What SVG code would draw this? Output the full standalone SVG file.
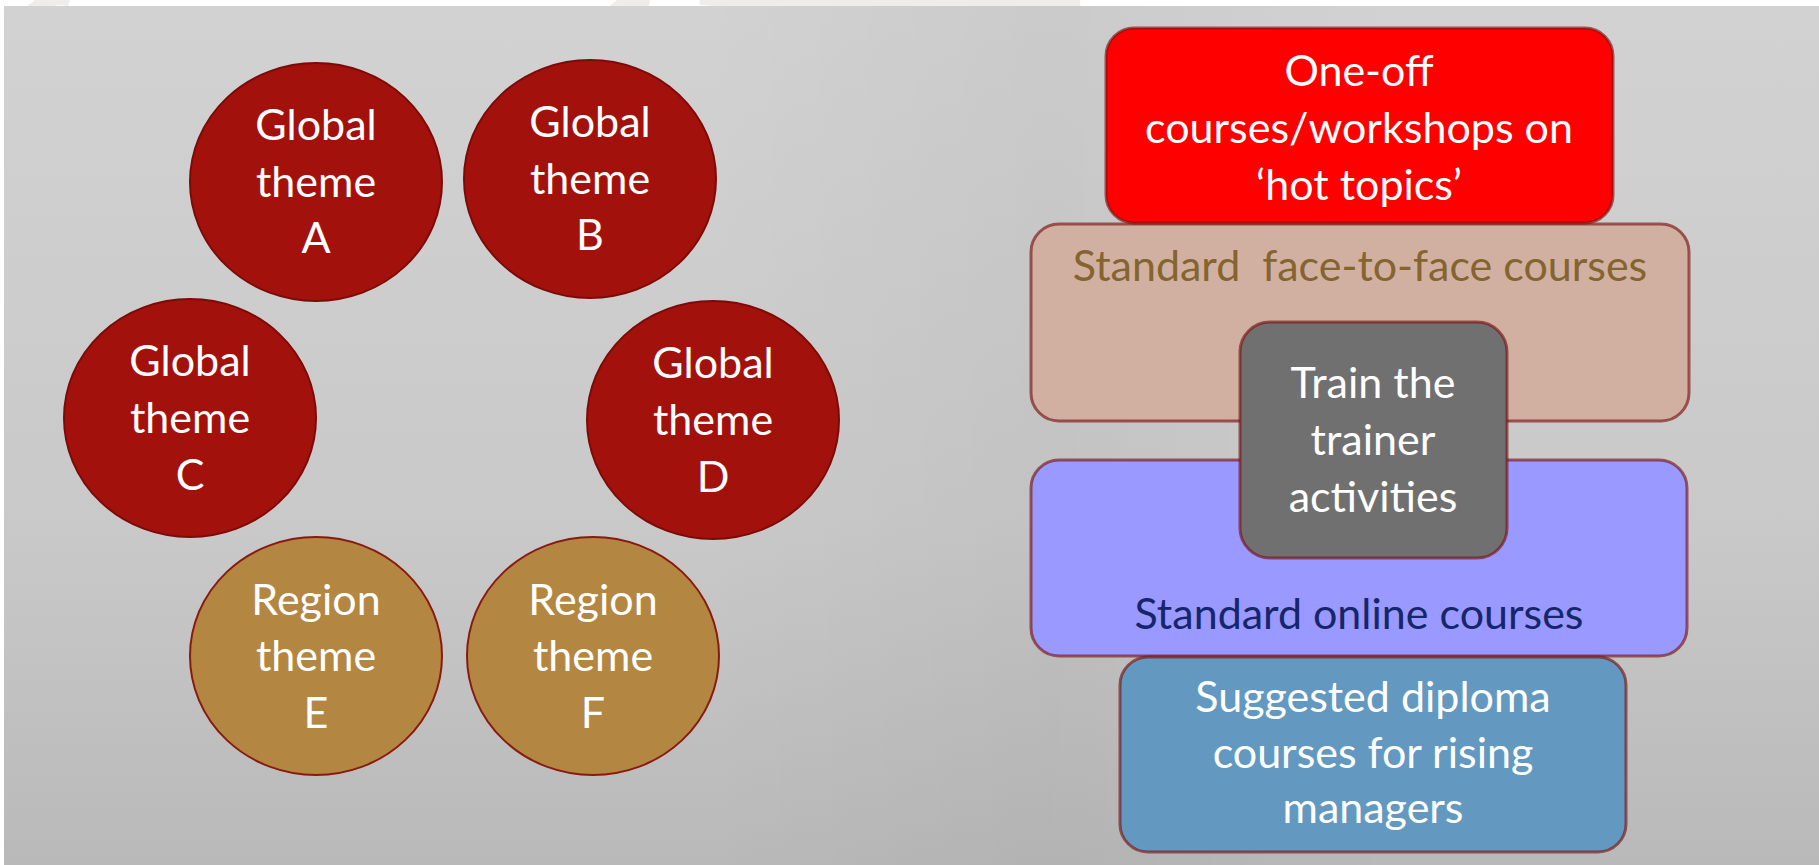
<svg xmlns="http://www.w3.org/2000/svg" width="1819" height="865" viewBox="0 0 1819 865">
  <defs>
    <linearGradient id="bgFade" x1="0" y1="0" x2="0" y2="1">
      <stop offset="0" stop-color="#d2d2d2"/>
      <stop offset="0.6" stop-color="#c9c9c9"/>
      <stop offset="1" stop-color="#b9b9b9"/>
    </linearGradient>
    <linearGradient id="midShade" x1="0" y1="0" x2="1" y2="0">
      <stop offset="0" stop-color="#000" stop-opacity="0"/>
      <stop offset="0.5" stop-color="#000" stop-opacity="0.035"/>
      <stop offset="1" stop-color="#000" stop-opacity="0"/>
    </linearGradient>
    <style>
      .lbl { font-family: Lato, "Open Sans", "DejaVu Sans", sans-serif; font-size: 43px; text-anchor: middle; }
      .white { fill: #ffffff; }
      .global { fill: #a3110d; stroke: #7c0b08; stroke-width: 2; }
      .region { fill: #b38742; stroke: #8a1a10; stroke-width: 2; }
      .box { stroke: #7a1414; stroke-opacity: 0.65; stroke-width: 3; }
    </style>
  </defs>

  <!-- page margin and backdrop -->
  <rect x="0" y="0" width="1819" height="865" fill="#ffffff"/>
  <g fill="none" stroke="#efedeb" stroke-width="14">
    <path d="M10 40 Q40 -10 70 0"/>
    <path d="M600 30 Q620 -5 650 0"/>
    <path d="M700 -2 Q880 10 1080 0"/>
  </g>
  <rect x="4" y="6" width="1815" height="859" fill="url(#bgFade)"/>
  <rect x="700" y="6" width="700" height="859" fill="url(#midShade)"/>

  <!-- theme circles -->
  <g id="theme-a">
    <ellipse class="global" cx="316" cy="182" rx="126" ry="119"/>
    <text class="lbl white" x="316" y="140">Global</text>
    <text class="lbl white" x="316" y="197">theme</text>
    <text class="lbl white" x="316" y="253">A</text>
  </g>
  <g id="theme-b">
    <ellipse class="global" cx="590" cy="179" rx="126" ry="119"/>
    <text class="lbl white" x="590" y="137">Global</text>
    <text class="lbl white" x="590" y="194">theme</text>
    <text class="lbl white" x="590" y="250">B</text>
  </g>
  <g id="theme-c">
    <ellipse class="global" cx="190" cy="418" rx="126" ry="119"/>
    <text class="lbl white" x="190" y="376">Global</text>
    <text class="lbl white" x="190" y="433">theme</text>
    <text class="lbl white" x="190" y="490">C</text>
  </g>
  <g id="theme-d">
    <ellipse class="global" cx="713" cy="420" rx="126" ry="119"/>
    <text class="lbl white" x="713" y="378">Global</text>
    <text class="lbl white" x="713" y="435">theme</text>
    <text class="lbl white" x="713" y="492">D</text>
  </g>
  <g id="theme-e">
    <ellipse class="region" cx="316" cy="656" rx="126" ry="119"/>
    <text class="lbl white" x="316" y="615">Region</text>
    <text class="lbl white" x="316" y="671">theme</text>
    <text class="lbl white" x="316" y="728">E</text>
  </g>
  <g id="theme-f">
    <ellipse class="region" cx="593" cy="656" rx="126" ry="119"/>
    <text class="lbl white" x="593" y="615">Region</text>
    <text class="lbl white" x="593" y="671">theme</text>
    <text class="lbl white" x="593" y="728">F</text>
  </g>

  <!-- course stack -->
  <g id="face-to-face">
    <rect class="box" x="1031" y="224" width="658" height="197" rx="28" fill="#d2b0a1"/>
    <text class="lbl" x="1360" y="281" fill="#84642f" xml:space="preserve">Standard  face-to-face courses</text>
  </g>
  <g id="one-off">
    <rect class="box" x="1106" y="28" width="507" height="195" rx="28" fill="#ff0000" stroke="#8b0000" stroke-opacity="0.8"/>
    <text class="lbl white" x="1359" y="86">One-off</text>
    <text class="lbl white" x="1359" y="143">courses/workshops on</text>
    <text class="lbl white" x="1359" y="200">‘hot topics’</text>
  </g>
  <g id="online">
    <rect class="box" x="1031" y="460" width="656" height="196" rx="28" fill="#9999ff"/>
    <text class="lbl" x="1359" y="629" fill="#17266a">Standard online courses</text>
  </g>
  <g id="diploma">
    <rect class="box" x="1120" y="657" width="506" height="195" rx="28" fill="#6399c1"/>
    <text class="lbl white" x="1373" y="712">Suggested diploma</text>
    <text class="lbl white" x="1373" y="768">courses for rising</text>
    <text class="lbl white" x="1373" y="823">managers</text>
  </g>
  <g id="train-the-trainer">
    <rect class="box" x="1240" y="322" width="267" height="236" rx="30" fill="#707070"/>
    <text class="lbl white" x="1373" y="398">Train the</text>
    <text class="lbl white" x="1373" y="455">trainer</text>
    <text class="lbl white" x="1373" y="512">activities</text>
  </g>

  <!-- no connectors in this figure -->
  <g id="connectors"/>
</svg>
